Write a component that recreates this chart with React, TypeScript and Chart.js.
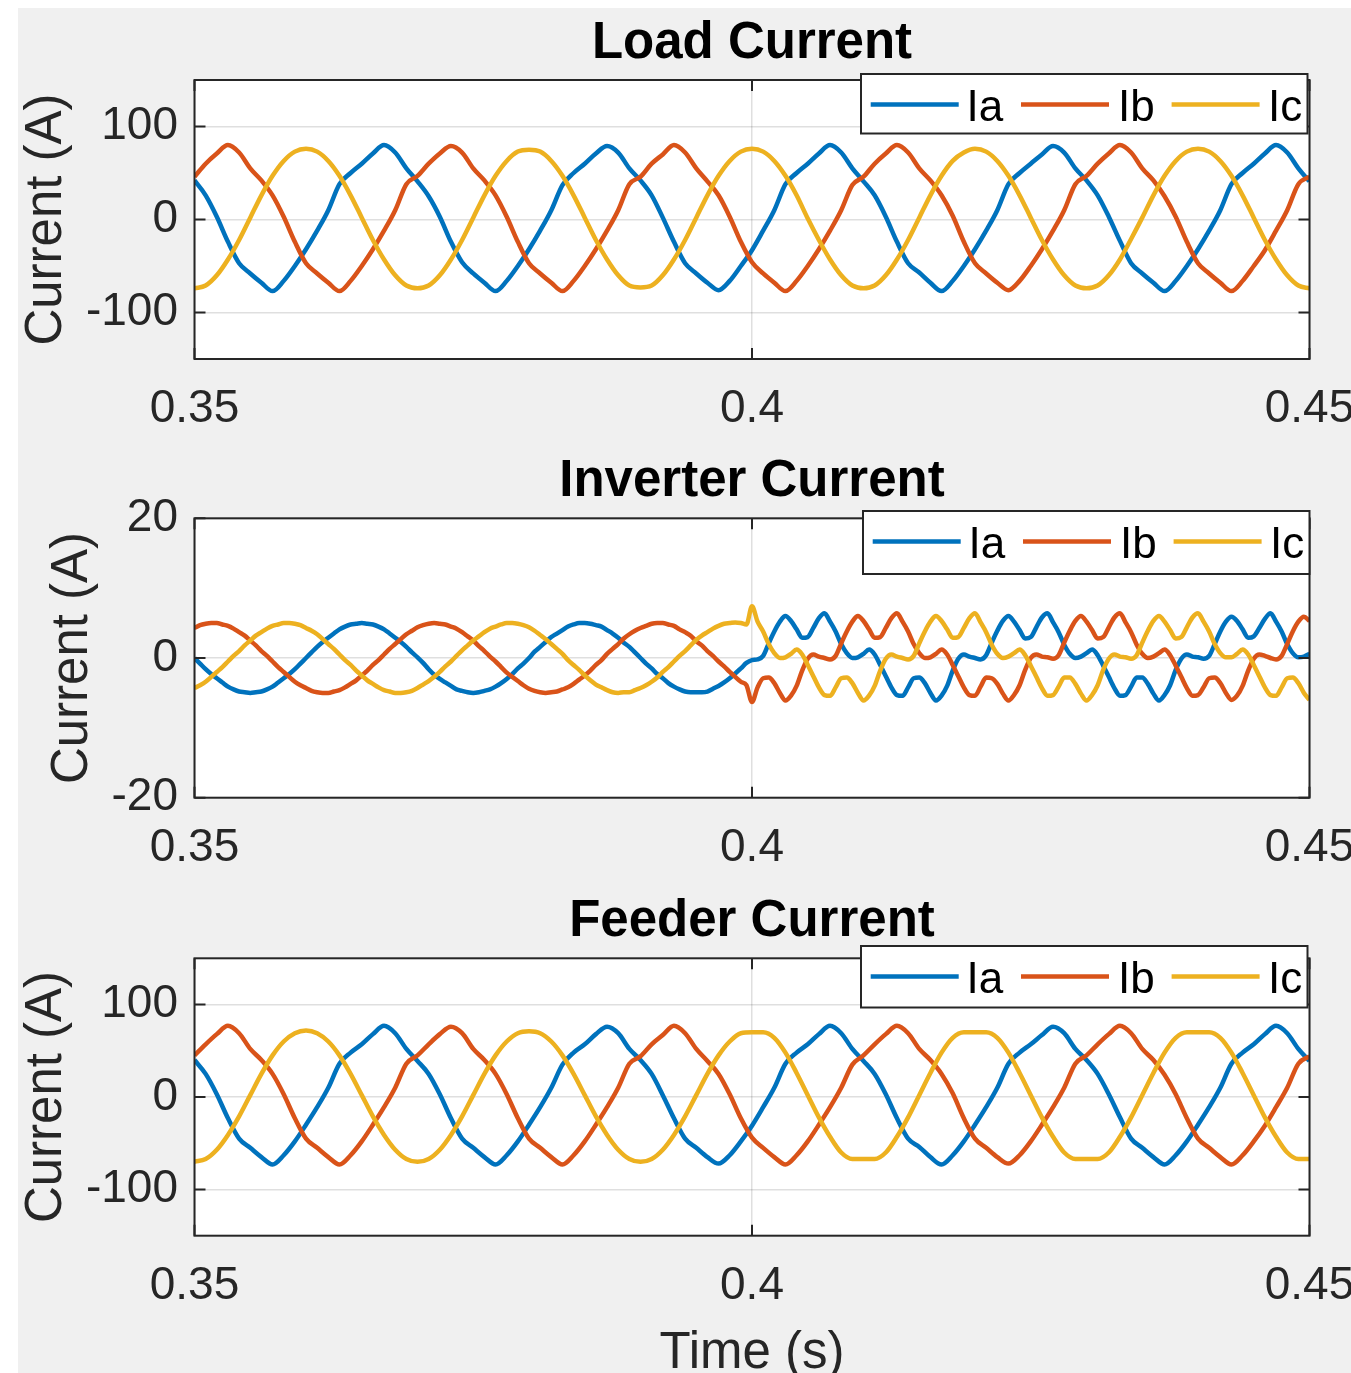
import React, { useEffect, useRef } from 'react';
import { Chart, registerables } from 'chart.js';

Chart.register(...registerables);

const FONT = "'Liberation Sans', Arial, Helvetica, sans-serif";
const AXIS_COLOR = '#262626';
const GRID_COLOR = 'rgba(38,38,38,0.15)';
const SERIES_COLORS = ['#0072BD', '#D95319', '#EDB120'];
const SERIES_NAMES = ['Ia', 'Ib', 'Ic'];

const PANEL_TITLES = ['Load Current', 'Inverter Current', 'Feeder Current'];
const Y_LABEL = 'Current (A)';
const X_LABEL = 'Time (s)';

const X_TICKS = [0.35, 0.4, 0.45];
const X_TICK_LABELS = ['0.35', '0.4', '0.45'];
const Y_TICKS_BIG = [-100, 0, 100];
const Y_TICK_LABELS_BIG = ['-100', '0', '100'];
const Y_TICKS_INV = [-20, 0, 20];
const Y_TICK_LABELS_INV = ['-20', '0', '20'];

const T_START = 0.35;
const STEP_COARSE = 0.001; // load and feeder samples (s)
const STEP_FINE = 0.0005; // inverter samples (s)

// ---------------- Load current (A), samples every 1 ms from 0.35 s ----------------
const loadIa = [
  42, 26, 3, -24, -47, -58, -68, -77, -66, -50, -32, -12, 10, 38, 50, 60, 71, 80, 72, 55,
  41, 25, 3, -24, -46, -58, -68, -77, -66, -50, -32, -12, 10, 37, 50, 60, 71, 79, 72, 55,
  42, 26, 2, -24, -47, -58, -68, -76, -66, -50, -33, -12, 10, 38, 50, 60, 71, 80, 72, 55,
  41, 26, 3, -24, -47, -57, -68, -77, -66, -50, -32, -12, 10, 38, 50, 60, 70, 79, 72, 55,
  42, 26, 3, -23, -47, -58, -68, -77, -66, -50, -32, -12, 10, 38, 50, 60, 71, 80, 72, 55,
  41,
];
const loadIb = [
  46, 60, 71, 80, 72, 55, 42, 26, 3, -24, -47, -58, -68, -77, -66, -50, -32, -12, 10, 38,
  47, 60, 71, 79, 72, 55, 42, 26, 3, -24, -47, -58, -68, -77, -66, -50, -32, -12, 10, 38,
  46, 60, 70, 80, 72, 55, 41, 26, 3, -24, -46, -58, -68, -77, -66, -50, -32, -12, 10, 37,
  46, 60, 71, 80, 72, 55, 42, 26, 4, -24, -47, -58, -68, -76, -66, -50, -32, -12, 10, 38,
  47, 60, 71, 80, 72, 55, 42, 25, 3, -24, -47, -58, -68, -77, -66, -50, -33, -12, 10, 38,
  46,
];
const loadIc = [
  -74, -71, -60, -43, -22, 2, 26, 47, 63, 73, 76, 73, 63, 47, 26, 2, -22, -43, -60, -71,
  -74, -71, -60, -43, -22, 2, 26, 47, 63, 73, 75, 73, 63, 47, 26, 2, -22, -43, -60, -71,
  -73, -71, -60, -43, -22, 2, 26, 47, 63, 73, 76, 73, 63, 47, 26, 1, -22, -43, -60, -71,
  -74, -71, -60, -43, -22, 2, 26, 47, 63, 72, 76, 73, 63, 47, 26, 2, -22, -43, -60, -71,
  -74, -71, -60, -43, -21, 2, 26, 47, 63, 73, 76, 73, 63, 47, 26, 2, -22, -43, -60, -71,
  -74,
];

// ---------------- Inverter current (A), samples every 0.5 ms from 0.35 s ----------------
const invIa = [
  0, -0.8, -1.6, -2.3, -2.9, -3.5, -4.1, -4.5, -4.8, -4.9, -5, -4.9, -4.8, -4.5, -4.1, -3.5, -2.9, -2.3, -1.6, -0.8,
  0, 0.8, 1.6, 2.3, 2.9, 3.5, 4.1, 4.5, 4.8, 4.9, 5, 4.9, 4.8, 4.5, 4.1, 3.5, 2.9, 2.3, 1.6, 0.8,
  0.1, -0.7, -1.6, -2.4, -3.0, -3.5, -4.0, -4.5, -4.7, -4.9, -5.0, -4.9, -4.7, -4.5, -4.1, -3.6, -3.0, -2.3, -1.5, -0.8,
  0, 0.9, 1.6, 2.3, 3.0, 3.5, 4.0, 4.5, 4.8, 5.0, 5.0, 4.9, 4.7, 4.5, 4.0, 3.5, 2.9, 2.2, 1.6, 0.8,
  0, -0.8, -1.5, -2.3, -2.9, -3.6, -4.1, -4.5, -4.8, -4.9, -4.9, -4.9, -4.8, -4.4, -4.0, -3.5, -2.9, -2.2, -1.5, -0.7,
  -0.3, -0.2, 0.3, 2.1, 3.8, 5.2, 6.0, 5.3, 4.1, 2.9, 3.0, 4.3, 5.7, 6.4, 5.2, 3.8, 2.0, 0.7, 0, 0.1,
  0.6, 1.2, 0.5, -1.0, -2.6, -4.2, -5.3, -5.4, -4.2, -2.9, -2.8, -3.6, -5.0, -6.1, -5.4, -4.0, -1.8, -0.1, 0.5, 0.2,
  0, -0.2, 0.4, 2.2, 3.9, 5.3, 6.0, 5.2, 4.0, 2.8, 3.0, 4.4, 5.8, 6.4, 5.1, 3.7, 1.9, 0.6, 0, 0.2,
  0.7, 1.2, 0.4, -1.1, -2.7, -4.3, -5.4, -5.3, -4.1, -2.8, -2.8, -3.7, -5.1, -6.1, -5.3, -3.9, -1.7, -0.1, 0.5, 0.2,
  0.1, -0.1, 0.3, 2.0, 3.8, 5.2, 5.9, 5.3, 4.1, 2.9, 3.1, 4.3, 5.6, 6.4, 5.2, 3.8, 2.0, 0.7, 0.1, 0.2,
  0.6,
];
const invIb = [
  4.3, 4.7, 4.9, 5.0, 5.0, 4.8, 4.6, 4.2, 3.7, 3.2, 2.5, 1.8, 1.0, 0.3, -0.5, -1.3, -2.0, -2.7, -3.4, -3.9,
  -4.3, -4.7, -4.9, -5.0, -5.0, -4.8, -4.6, -4.2, -3.7, -3.2, -2.5, -1.8, -1.0, -0.3, 0.5, 1.3, 2.0, 2.7, 3.4, 3.9,
  4.4, 4.7, 4.9, 5.0, 4.9, 4.8, 4.5, 4.2, 3.7, 3.1, 2.5, 1.7, 1.0, 0.2, -0.5, -1.3, -2.1, -2.7, -3.3, -3.9,
  -4.4, -4.7, -4.9, -5.0, -4.9, -4.8, -4.5, -4.2, -3.7, -3.1, -2.5, -1.8, -1.0, -0.3, 0.6, 1.3, 2.0, 2.8, 3.4, 3.9,
  4.3, 4.6, 4.9, 5.0, 5.0, 4.8, 4.6, 4.1, 3.7, 3.2, 2.4, 1.8, 1.0, 0.3, -0.5, -1.2, -2.0, -2.7, -3.4, -3.9,
  -6.3, -4.2, -2.9, -2.8, -3.6, -5.0, -6.1, -5.4, -4.0, -1.8, -0.1, 0.5, 0.2, 0, -0.2, 0.3, 2.1, 3.8, 5.2, 6.0,
  5.3, 4.1, 2.9, 3.0, 4.3, 5.7, 6.4, 5.2, 3.8, 2.0, 0.7, 0, 0.1, 0.6, 1.2, 0.5, -1.0, -2.6, -4.2, -5.3,
  -5.4, -4.1, -2.8, -2.9, -3.7, -5.1, -6.1, -5.3, -3.9, -1.7, 0, 0.5, 0.2, 0.1, -0.1, 0.4, 2.2, 3.9, 5.3, 6.0,
  5.2, 4.0, 2.8, 3.0, 4.4, 5.8, 6.4, 5.1, 3.7, 1.9, 0.6, 0, 0.2, 0.7, 1.2, 0.4, -1.1, -2.7, -4.3, -5.4,
  -5.3, -4.2, -2.9, -2.8, -3.6, -5.0, -6.0, -5.4, -4.0, -1.8, -0.1, 0.5, 0.3, 0, -0.2, 0.3, 2.0, 3.8, 5.2, 5.9,
  5.3,
];
const invIc = [
  -4.3, -3.9, -3.4, -2.7, -2.0, -1.3, -0.5, 0.3, 1.0, 1.8, 2.5, 3.2, 3.7, 4.2, 4.6, 4.8, 5.0, 5.0, 4.9, 4.7,
  4.3, 3.9, 3.4, 2.7, 2.0, 1.3, 0.5, -0.3, -1.0, -1.8, -2.5, -3.2, -3.7, -4.2, -4.6, -4.8, -5.0, -5.0, -4.9, -4.7,
  -4.3, -3.8, -3.3, -2.7, -2.0, -1.2, -0.5, 0.3, 1.1, 1.8, 2.5, 3.1, 3.7, 4.2, 4.5, 4.8, 5.0, 5.0, 4.9, 4.7,
  4.4, 3.9, 3.3, 2.7, 2.0, 1.3, 0.6, -0.3, -1.0, -1.7, -2.5, -3.2, -3.8, -4.2, -4.6, -4.9, -5.0, -4.9, -4.9, -4.6,
  -4.3, -3.9, -3.4, -2.8, -2.0, -1.3, -0.5, 0.3, 1.0, 1.8, 2.6, 3.2, 3.7, 4.2, 4.6, 4.9, 5.0, 5.1, 5.0, 4.8,
  7.4, 5.2, 3.8, 2.0, 0.7, 0, 0.1, 0.6, 1.2, 0.5, -1.0, -2.6, -4.2, -5.3, -5.4, -4.2, -2.9, -2.8, -3.6, -5.0,
  -6.1, -5.4, -4.0, -1.8, -0.1, 0.5, 0.2, 0, -0.2, 0.3, 2.1, 3.8, 5.2, 6.0, 5.3, 4.1, 2.9, 3.0, 4.3, 5.7,
  6.4, 5.1, 3.7, 1.9, 0.6, 0, 0.2, 0.7, 1.2, 0.4, -1.1, -2.7, -4.3, -5.4, -5.3, -4.1, -2.8, -2.8, -3.7, -5.1,
  -6.1, -5.3, -3.9, -1.7, -0.1, 0.5, 0.2, 0.1, -0.1, 0.4, 2.2, 3.9, 5.3, 6.0, 5.2, 4.0, 2.8, 3.0, 4.4, 5.8,
  6.4, 5.2, 3.8, 2.0, 0.7, 0.1, 0.1, 0.6, 1.2, 0.5, -1.0, -2.6, -4.2, -5.3, -5.4, -4.2, -2.9, -2.8, -3.6, -5.0,
  -6.0,
];

// ---------------- Feeder current (A), samples every 1 ms from 0.35 s ----------------
const feederIa = [
  40, 25, 3, -23, -45, -55, -65, -73, -63, -48, -30, -11, 10, 36, 48, 57, 68, 77, 69, 52,
  39, 25, 3, -23, -45, -55, -65, -73, -63, -48, -30, -11, 10, 35, 48, 57, 68, 76, 69, 52,
  40, 25, 2, -23, -45, -55, -65, -72, -63, -48, -31, -11, 10, 36, 48, 57, 68, 77, 69, 52,
  39, 25, 3, -23, -45, -54, -65, -73, -63, -48, -30, -11, 10, 36, 48, 57, 67, 76, 69, 52,
  40, 25, 3, -22, -45, -55, -65, -73, -63, -48, -30, -11, 10, 36, 48, 57, 68, 77, 69, 52,
  39,
];
const feederIb = [
  45, 57, 68, 77, 69, 52, 40, 25, 3, -23, -45, -55, -65, -73, -63, -48, -30, -11, 10, 36,
  45, 57, 68, 76, 69, 52, 40, 25, 3, -23, -45, -55, -65, -73, -63, -48, -30, -11, 10, 36,
  44, 57, 67, 77, 69, 52, 39, 25, 3, -23, -44, -55, -65, -73, -63, -48, -30, -11, 10, 35,
  45, 57, 68, 77, 69, 52, 40, 25, 4, -23, -45, -55, -65, -72, -63, -48, -30, -11, 10, 36,
  45, 57, 68, 77, 69, 52, 40, 24, 3, -23, -45, -55, -65, -73, -63, -48, -31, -11, 10, 36,
  44,
];
const feederIc = [
  -70, -67, -57, -41, -21, 2, 25, 45, 60, 69, 72, 69, 60, 45, 25, 2, -21, -41, -57, -67,
  -70, -67, -57, -41, -21, 2, 25, 45, 60, 69, 71, 69, 60, 45, 25, 2, -21, -41, -57, -67,
  -70, -67, -57, -41, -21, 2, 25, 45, 60, 69, 70, 70, 64, 48, 26, 2, -22, -43, -60, -67,
  -67, -67, -60, -43, -22, 2, 26, 48, 64, 70, 70, 70, 64, 48, 26, 2, -22, -43, -60, -67,
  -67, -67, -60, -43, -22, 2, 26, 48, 64, 70, 70, 70, 64, 48, 26, 2, -22, -43, -60, -67,
  -67,
];

const timesCoarse = loadIa.map((_, k) => T_START + k * STEP_COARSE);
const timesFine = invIa.map((_, k) => T_START + k * STEP_FINE);

// ---------------- layout (page pixels) ----------------
const PAGE_W = 1351;
const PAGE_H = 1373;
const FIG_LEFT = 18;
const FIG_TOP = 8;
const CANVAS_W = 1400;
const AREA_LEFT = 194.5;
const AREA_RIGHT = 1309.5;

type Panel = {
  title: string;
  canvasTop: number;
  canvasHeight: number;
  areaTop: number;
  areaBottom: number;
  yMin: number;
  yMax: number;
  yTicks: number[];
  yTickLabels: string[];
  yLabelX: number;
  xLabelBaseline?: number;
  legend: { x: number; y: number; w: number; h: number };
  times: number[];
  series: number[][];
};

const PANELS: Panel[] = [
  {
    title: PANEL_TITLES[0],
    canvasTop: 8,
    canvasHeight: 432,
    areaTop: 80,
    areaBottom: 359,
    yMin: -150,
    yMax: 150,
    yTicks: Y_TICKS_BIG,
    yTickLabels: Y_TICK_LABELS_BIG,
    yLabelX: 61,
    legend: { x: 861, y: 74, w: 446.5, h: 59.5 },
    times: timesCoarse,
    series: [loadIa, loadIb, loadIc],
  },
  {
    title: PANEL_TITLES[1],
    canvasTop: 440,
    canvasHeight: 440,
    areaTop: 518.3,
    areaBottom: 797.7,
    yMin: -20,
    yMax: 20,
    yTicks: Y_TICKS_INV,
    yTickLabels: Y_TICK_LABELS_INV,
    yLabelX: 87,
    legend: { x: 863, y: 511, w: 446.5, h: 63 },
    times: timesFine,
    series: [invIa, invIb, invIc],
  },
  {
    title: PANEL_TITLES[2],
    canvasTop: 880,
    canvasHeight: 493,
    areaTop: 958.3,
    areaBottom: 1235.7,
    yMin: -150,
    yMax: 150,
    yTicks: Y_TICKS_BIG,
    yTickLabels: Y_TICK_LABELS_BIG,
    yLabelX: 61,
    xLabelBaseline: 1368,
    legend: { x: 861, y: 946, w: 446.5, h: 61.5 },
    times: timesCoarse,
    series: [feederIa, feederIb, feederIc],
  },
];

function makeDecorPlugin(p: Panel) {
  return {
    id: 'matlabDecor',
    beforeDraw(chart: any) {
      const { ctx, chartArea: ca } = chart;
      ctx.save();
      ctx.fillStyle = '#ffffff';
      ctx.fillRect(ca.left, ca.top, ca.right - ca.left, ca.bottom - ca.top);
      ctx.restore();
    },
    afterDraw(chart: any) {
      const { ctx, chartArea: ca } = chart;
      const xs = chart.scales.x;
      const ys = chart.scales.y;
      const ox = FIG_LEFT;
      const oy = p.canvasTop;
      ctx.save();

      // axes box
      ctx.strokeStyle = AXIS_COLOR;
      ctx.lineWidth = 2;
      ctx.strokeRect(ca.left, ca.top, ca.right - ca.left, ca.bottom - ca.top);

      // inward tick marks
      const TL = 11;
      ctx.beginPath();
      p.yTicks.forEach((v) => {
        const py = ys.getPixelForValue(v);
        ctx.moveTo(ca.left, py);
        ctx.lineTo(ca.left + TL, py);
        ctx.moveTo(ca.right, py);
        ctx.lineTo(ca.right - TL, py);
      });
      X_TICKS.forEach((v) => {
        const px = xs.getPixelForValue(v);
        ctx.moveTo(px, ca.top);
        ctx.lineTo(px, ca.top + TL);
        ctx.moveTo(px, ca.bottom);
        ctx.lineTo(px, ca.bottom - TL);
      });
      ctx.stroke();

      // title
      ctx.fillStyle = '#000000';
      ctx.font = `bold 51px ${FONT}`;
      ctx.textAlign = 'center';
      ctx.textBaseline = 'alphabetic';
      ctx.fillText(p.title, (ca.left + ca.right) / 2, ca.top - 22);

      // y label
      ctx.fillStyle = AXIS_COLOR;
      ctx.font = `51px ${FONT}`;
      ctx.save();
      ctx.translate(p.yLabelX - ox, (ca.top + ca.bottom) / 2);
      ctx.rotate(-Math.PI / 2);
      ctx.textAlign = 'center';
      ctx.fillText(Y_LABEL, 0, 0);
      ctx.restore();

      // x label
      if (p.xLabelBaseline !== undefined) {
        ctx.textAlign = 'center';
        ctx.fillText(X_LABEL, (ca.left + ca.right) / 2, p.xLabelBaseline - oy);
      }

      // legend box
      const L = p.legend;
      const lx = L.x - ox;
      const ly = L.y - oy;
      ctx.fillStyle = '#ffffff';
      ctx.fillRect(lx, ly, L.w, L.h);
      ctx.strokeStyle = AXIS_COLOR;
      ctx.lineWidth = 2;
      ctx.strokeRect(lx, ly, L.w, L.h);
      const lineStarts = [9.7, 160, 310.6];
      const lineLen = 88;
      const textStarts = [105.6, 257, 407];
      ctx.font = `44px ${FONT}`;
      ctx.textAlign = 'left';
      ctx.textBaseline = 'alphabetic';
      SERIES_NAMES.forEach((name, i) => {
        ctx.strokeStyle = SERIES_COLORS[i];
        ctx.lineWidth = 4.5;
        ctx.beginPath();
        ctx.moveTo(lx + lineStarts[i], ly + 30.5);
        ctx.lineTo(lx + lineStarts[i] + lineLen, ly + 30.5);
        ctx.stroke();
        ctx.fillStyle = '#000000';
        ctx.fillText(name, lx + textStarts[i], ly + 47);
      });

      ctx.restore();
    },
  };
}

function buildConfig(p: Panel): any {
  const xAxisHeight = p.canvasHeight - (p.areaBottom - p.canvasTop);
  return {
    type: 'line',
    data: {
      datasets: p.series.map((values, i) => ({
        label: SERIES_NAMES[i],
        data: values.map((v, k) => ({ x: p.times[k], y: v })),
        borderColor: SERIES_COLORS[i],
        backgroundColor: SERIES_COLORS[i],
        borderWidth: 4.5,
        pointRadius: 0,
        fill: false,
        cubicInterpolationMode: 'monotone',
        order: 3 - i,
      })),
    },
    options: {
      responsive: false,
      animation: false,
      devicePixelRatio: 1,
      events: [],
      layout: {
        padding: {
          top: p.areaTop - p.canvasTop,
          right: CANVAS_W - (AREA_RIGHT - FIG_LEFT),
          bottom: 0,
          left: 0,
        },
      },
      plugins: {
        legend: { display: false },
        title: { display: false },
        tooltip: { enabled: false },
      },
      scales: {
        x: {
          type: 'linear',
          min: X_TICKS[0],
          max: X_TICKS[X_TICKS.length - 1],
          afterBuildTicks: (s: any) => {
            s.ticks = X_TICKS.map((v) => ({ value: v }));
          },
          afterFit: (s: any) => {
            s.height = xAxisHeight;
          },
          ticks: {
            autoSkip: false,
            maxRotation: 0,
            minRotation: 0,
            padding: 23,
            color: AXIS_COLOR,
            font: { family: FONT, size: 46 },
            callback: (_v: any, i: number) => X_TICK_LABELS[i],
          },
          grid: { color: GRID_COLOR, lineWidth: 1.5, drawTicks: false },
          border: { display: false },
        },
        y: {
          type: 'linear',
          min: p.yMin,
          max: p.yMax,
          afterBuildTicks: (s: any) => {
            s.ticks = p.yTicks.map((v) => ({ value: v }));
          },
          afterFit: (s: any) => {
            s.width = AREA_LEFT - FIG_LEFT;
          },
          ticks: {
            autoSkip: false,
            padding: 16.5,
            color: AXIS_COLOR,
            font: { family: FONT, size: 46 },
            callback: (_v: any, i: number) => p.yTickLabels[i],
          },
          grid: { color: GRID_COLOR, lineWidth: 1.5, drawTicks: false },
          border: { display: false },
        },
      },
    },
    plugins: [makeDecorPlugin(p)],
  };
}

function PanelChart({ panel }: { panel: Panel }) {
  const ref = useRef<HTMLCanvasElement | null>(null);
  useEffect(() => {
    if (!ref.current) return;
    const chart = new Chart(ref.current, buildConfig(panel));
    return () => chart.destroy();
  }, [panel]);
  return (
    <canvas
      ref={ref}
      width={CANVAS_W}
      height={panel.canvasHeight}
      style={{
        position: 'absolute',
        left: FIG_LEFT,
        top: panel.canvasTop,
        width: CANVAS_W,
        height: panel.canvasHeight,
      }}
    />
  );
}

export default function App() {
  return (
    <div
      style={{
        position: 'absolute',
        left: 0,
        top: 0,
        width: PAGE_W,
        height: PAGE_H,
        overflow: 'hidden',
        background: '#ffffff',
      }}
    >
      <div
        style={{
          position: 'absolute',
          left: FIG_LEFT,
          top: FIG_TOP,
          width: PAGE_W - FIG_LEFT,
          height: PAGE_H - FIG_TOP,
          background: '#f0f0f0',
        }}
      />
      {PANELS.map((p, i) => (
        <PanelChart key={i} panel={p} />
      ))}
    </div>
  );
}
